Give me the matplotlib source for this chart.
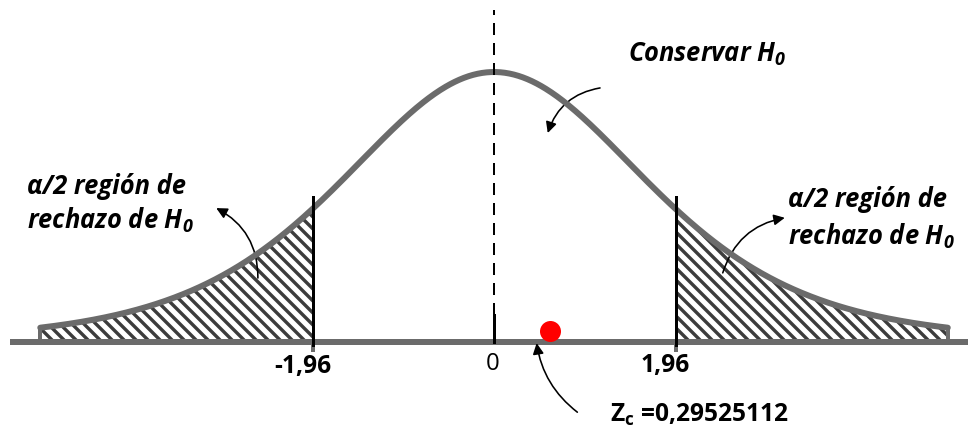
import numpy as np
import matplotlib
matplotlib.use("Agg")
import matplotlib.pyplot as plt

# ---------------- data ----------------
crit_values = [-1.96, 1.96]          # critical z values
crit_labels = ["-1,96", "1,96"]
center_value = 0.0
center_label = "0"
zc_label_value = "0,29525112"
zc_marker_x = 0.6                    # where the red dot sits in the picture
curve_df = 5                         # shape of the drawn bell curve
curve_scale = 1.7
curve_limit = 4.9                    # curve is drawn between -limit..limit
axis_limits = (-5.23, 5.12)          # horizontal axis line extent

# ---------------- style ----------------
FONT = 'Open Sans'
plt.rcParams['font.family'] = [FONT, 'DejaVu Sans']
plt.rcParams['mathtext.fontset'] = 'custom'
plt.rcParams['mathtext.bf'] = FONT + ':bold'
plt.rcParams['mathtext.bfit'] = FONT + ':bold:italic'
plt.rcParams['mathtext.it'] = FONT + ':italic'
plt.rcParams['mathtext.rm'] = FONT
plt.rcParams['hatch.linewidth'] = 3.4
plt.rcParams['hatch.color'] = '#3c3c3c'

GRAY = '#6b6b6b'
DPI = 72
fig = plt.figure(figsize=(975 / DPI, 428 / DPI), dpi=DPI)
ax = fig.add_axes([0, 0, 1, 1])
ax.set_xlim(-5.335, 5.194)
ax.set_ylim(-0.3185, 1.2667)
ax.axis('off')


def bell(x):
    u = x / curve_scale
    return (1 + u ** 2 / curve_df) ** (-(curve_df + 1) / 2)


x = np.linspace(-curve_limit, curve_limit, 800)
y = bell(x)

# hatched tails
for lo, hi in [(-curve_limit, crit_values[0]), (crit_values[1], curve_limit)]:
    xs = np.linspace(lo, hi, 300)
    ax.fill_between(xs, 0, bell(xs), facecolor='white', edgecolor='#3c3c3c',
                    hatch='\\\\', linewidth=0, zorder=1)
    end = lo if lo < 0 else hi
    ax.plot([end, end], [0, bell(end)], color=GRAY, lw=4, zorder=2)

# baseline
ax.plot(axis_limits, [0, 0], color=GRAY, lw=6, solid_capstyle='butt', zorder=3)
# curve
ax.plot(x, y, color=GRAY, lw=6, solid_capstyle='round', zorder=4)

# critical lines
for cv in crit_values:
    ax.plot([cv, cv], [-0.03, 0], color=GRAY, lw=4, zorder=3)
    ax.plot([cv, cv], [-0.012, 0.537], color='black', lw=3, zorder=5)

# center tick and dashed line
ax.plot([center_value, center_value], [0, 0.1], color='black', lw=3, zorder=5)
ax.plot([center_value, center_value], [0.1, 1.23], color='black', lw=2,
        dashes=(6, 4), zorder=5)

# red point
ax.plot([zc_marker_x], [0.041], 'o', color='#ff0000', markersize=21,
        markeredgewidth=0, zorder=6)

# tick labels
ax.text(crit_values[0] - 0.10, -0.113, crit_labels[0], ha='center',
        va='baseline', fontsize=24.5, fontweight='bold')
ax.text(crit_values[1] - 0.11, -0.111, crit_labels[1], ha='center',
        va='baseline', fontsize=24.5, fontweight='bold')
ax.text(center_value - 0.02, -0.104, center_label, ha='center', va='baseline',
        fontsize=24)

# annotations
tstyle = dict(fontsize=25.5, fontweight='bold', fontstyle='italic',
              va='baseline', ha='left')
ax.text(1.447, 1.037, r"Conservar $\mathbfit{H}_\mathbfit{0}$", **tstyle)
ax.text(-5.043, 0.548, "α/2 región de", **tstyle)
ax.text(-5.043, 0.419, r"rechazo de $\mathbfit{H}_\mathbfit{0}$", **tstyle)
ax.text(3.175, 0.50, "α/2 región de", **tstyle)
ax.text(3.175, 0.359, r"rechazo de $\mathbfit{H}_\mathbfit{0}$", **tstyle)
ax.text(1.253, -0.296, r"$\mathbf{Z}_\mathbf{c}$ =" + zc_label_value,
        ha='left', va='baseline', fontsize=24.5, fontweight='bold')

arrow = dict(arrowstyle='-|>,head_length=0.9,head_width=0.45', color='black',
             lw=1.6, shrinkA=0, shrinkB=0)
# Conservar arrow
ax.annotate('', xy=(0.58, 0.774), xytext=(1.145, 0.941),
            arrowprops=dict(connectionstyle='arc3,rad=0.3', **arrow))
# left tail arrow
ax.annotate('', xy=(-3.0, 0.496), xytext=(-2.55, 0.237),
            arrowprops=dict(connectionstyle='arc3,rad=0.3', **arrow))
# right tail arrow
ax.annotate('', xy=(3.14, 0.460), xytext=(2.47, 0.256),
            arrowprops=dict(connectionstyle='arc3,rad=-0.3', **arrow))
# Zc arrow
ax.annotate('', xy=(0.46, -0.004), xytext=(0.90, -0.26),
            arrowprops=dict(connectionstyle='arc3,rad=-0.2', **arrow))

fig.savefig('out.png', dpi=DPI)
